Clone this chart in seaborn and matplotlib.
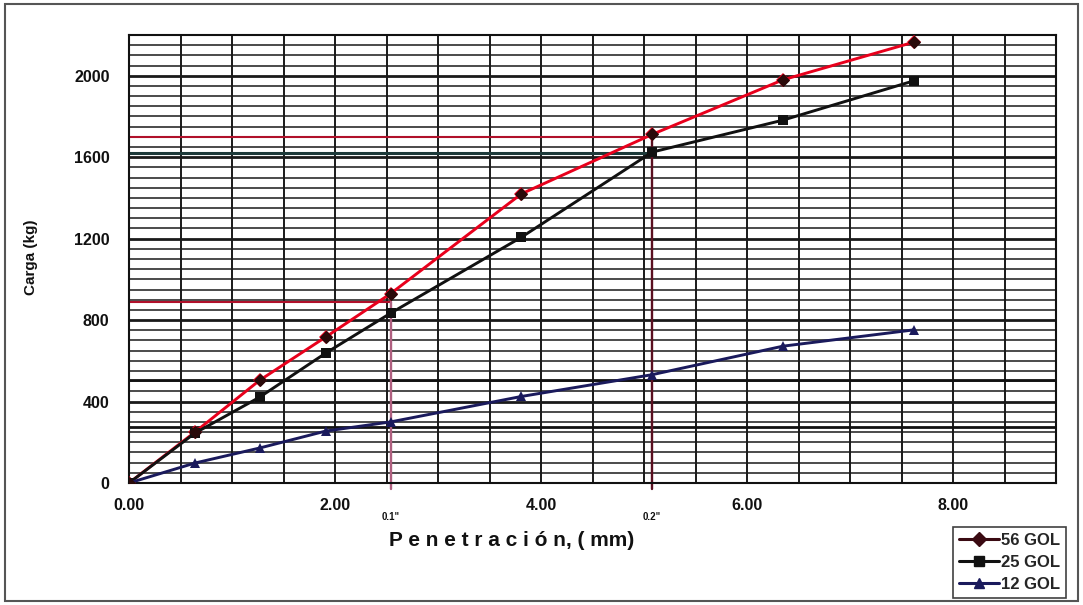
import matplotlib
matplotlib.use("Agg")
import matplotlib.pyplot as plt
import seaborn as sns
import pandas as pd
import numpy as np
from matplotlib.patches import Rectangle
from matplotlib.lines import Line2D

# ---- data ----
penetration = [0.00, 0.64, 1.27, 1.91, 2.54, 3.81, 5.08, 6.35, 7.62]
gol_56 = [0, 250, 505, 717, 930, 1420, 1712, 1980, 2165]
gol_25 = [0, 245, 422, 638, 834, 1207, 1625, 1782, 1975]
gol_12 = [0, 98, 172, 255, 300, 425, 532, 672, 752]
series_names = ["56 GOL", "25 GOL", "12 GOL"]
x_ticks = [0, 2, 4, 6, 8]
x_tick_labels = ["0.00", "2.00", "4.00", "6.00", "8.00"]
y_ticks = [0, 400, 800, 1200, 1600, 2000]
inch_marks = [2.54, 5.08]
inch_labels = ['0.1"', '0.2"']
ref_56 = [888, 1700]
ref_25 = 1620
ref_other = [505, 275]

df = pd.DataFrame({
    "x": penetration * 3,
    "y": gol_56 + gol_25 + gol_12,
    "serie": [s for s in series_names for _ in penetration],
})

sns.set_theme(style="white")
plt.rcParams["font.family"] = ["Liberation Sans", "DejaVu Sans"]

fig = plt.figure(figsize=(10.83, 6.05), dpi=100)
ax = fig.add_axes([129 / 1083, 1 - 483 / 605, 927 / 1083, 448 / 605])

# grid
ax.set_xlim(0, 9)
ax.set_ylim(0, 2200)
grid_c = "#1a1a1a"
for xv in np.arange(0.5, 9.0, 0.5):
    ax.axvline(xv, color=grid_c, lw=1.4, zorder=1)
for yv in np.arange(50, 2200, 50):
    lw = 2.0 if yv % 400 == 0 else 1.1
    ax.axhline(yv, color=grid_c, lw=lw, zorder=1)

# reference lines
for yv in ref_other:
    ax.axhline(yv, color="#111111", lw=2.0, zorder=1.5)
ax.plot([0, inch_marks[1]], [ref_25, ref_25], color="#1d3a3a", lw=2.2, zorder=1.6)
ax.plot([0, inch_marks[0]], [ref_56[0], ref_56[0]], color="#b0102a", lw=1.5, zorder=1.6)
ax.plot([0, inch_marks[1]], [ref_56[1], ref_56[1]], color="#b0102a", lw=1.5, zorder=1.6)
ax.plot([inch_marks[0], inch_marks[0]], [-30, ref_56[0]], color="#b06080", lw=1.7,
        zorder=1.6, clip_on=False)
ax.plot([inch_marks[1], inch_marks[1]], [-30, ref_56[1]], color="#5a1020", lw=1.7,
        zorder=1.6, clip_on=False)

# data
palette = {"56 GOL": "#e8001c", "25 GOL": "#111111", "12 GOL": "#1a1a5c"}
markers = {"56 GOL": "D", "25 GOL": "s", "12 GOL": "^"}
sns.lineplot(data=df, x="x", y="y", hue="serie", style="serie", palette=palette,
             markers=markers, dashes=False, sort=False, lw=2.1, markersize=7.5,
             markeredgewidth=0, ax=ax, legend=False, zorder=3)
# dark markers for 56 GOL
ax.scatter(penetration, gol_56, marker="D", s=34, color="#2a0a0a", zorder=4)

# ticks
ax.set_xticks(x_ticks)
ax.set_xticklabels(x_tick_labels)
ax.set_yticks(y_ticks)
ax.set_yticklabels([str(v) for v in y_ticks])
ax.tick_params(axis="both", which="major", length=5, width=1.5, color="#111111",
               labelsize=11.5, direction="out", labelcolor="#111111")
ax.tick_params(axis="x", pad=6)
ax.tick_params(axis="y", pad=9)
for lab in ax.get_xticklabels() + ax.get_yticklabels():
    lab.set_fontweight("bold")
for sp in ax.spines.values():
    sp.set_visible(True)
    sp.set_color("#111111")
    sp.set_linewidth(1.5)
ax.set_xlabel("")
ax.set_ylabel("")

# inch labels
for xm, lab in zip(inch_marks, inch_labels):
    ax.text(xm, -0.077 * 2200, lab, ha="center", va="center", fontsize=7,
            fontweight="bold", color="#111111")

fig.text(512 / 1083, 1 - 541 / 605, "P e n e t r a c i ó n, ( mm)", ha="center",
         va="center", fontsize=15, fontweight="bold", color="#111111")
fig.text(31 / 1083, 1 - 257 / 605, "Carga (kg)", ha="center", va="center",
         rotation=90, fontsize=11, fontweight="bold", color="#111111")

# legend
leg_colors = {"56 GOL": "#3a0a12", "25 GOL": "#111111", "12 GOL": "#1a1a5c"}
handles = [Line2D([0], [0], color=leg_colors[s], marker=markers[s], lw=2.2,
                  markersize=7) for s in series_names]
leg = fig.legend(handles, series_names, loc="lower right",
                 bbox_to_anchor=(1066 / 1083, 1 - 598 / 605), frameon=True,
                 fancybox=False, handlelength=2.4, handletextpad=0.15,
                 borderpad=0.35, labelspacing=0.42, borderaxespad=0,
                 prop={"size": 12, "weight": "bold"})
leg.get_frame().set_edgecolor("#111111")
leg.get_frame().set_linewidth(1.2)

# outer border
fig.patches.append(Rectangle((5 / 1083, 4 / 605), 1073 / 1083, 597 / 605,
                             transform=fig.transFigure, fill=False,
                             edgecolor="#555555", lw=1.5))

fig.savefig("out.png", dpi=100)
